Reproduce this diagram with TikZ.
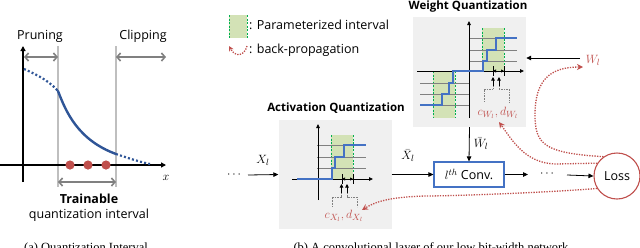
\documentclass[tikz,border=0pt]{standalone}
\usepackage{fontspec}
\setmainfont{Open Sans}
\newfontfamily\capfont{Liberation Serif}
\usetikzlibrary{arrows.meta}
\definecolor{cblue}{HTML}{2F5597}
\definecolor{sblue}{HTML}{4472C4}
\definecolor{cred}{HTML}{C0504D}
\definecolor{gfill}{HTML}{D3E2B6}
\definecolor{gdash}{HTML}{00B050}
\definecolor{boxgray}{HTML}{F0F0F0}
\definecolor{lgray}{HTML}{BFBFBF}
\definecolor{agray}{HTML}{808080}
\tikzset{
  txt/.style={font=\fontsize{12.5}{14}\selectfont, inner sep=0pt},
  mtxt/.style={font=\fontsize{13}{14}\selectfont, inner sep=0pt},
  ttl/.style={font=\fontsize{11.5}{13}\selectfont\bfseries, inner sep=0pt},
  captxt/.style={font=\fontsize{12.5}{14}\selectfont\capfont, inner sep=0pt, anchor=base},
  garrow/.style={agray, line width=1.6pt, {Straight Barb[length=3.5pt,width=8pt]}-{Straight Barb[length=3.5pt,width=8pt]}},
  axis/.style={black, line width=1.3pt, -{Triangle[length=5pt,width=5pt]}},
  thinaxis/.style={black, line width=0.8pt, -{Triangle[length=4pt,width=3.5pt]}},
  barr/.style={black, line width=0.8pt, -{Triangle[length=5pt,width=4.5pt]}},
  bp/.style={cred, line width=1.3pt, dash pattern=on 1.3pt off 1.3pt, -{Stealth[length=6pt,width=6pt,open]}},
  stair/.style={sblue, line width=1.4pt},
  qline/.style={agray, line width=0.6pt},
  gint/.style={fill=gfill, draw=none},
  gedge/.style={gdash, line width=0.9pt, dash pattern=on 2pt off 1.5pt},
  brk/.style={agray, line width=0.6pt, dash pattern=on 1pt off 0.6pt},
  curvedot/.style={cblue, line width=2.2pt, dash pattern=on 2pt off 2.2pt},
}
\begin{document}
\begin{tikzpicture}[x=1pt,y=-1pt]
\clip (0,0) rectangle (640,247);
\fill[white] (0,0) rectangle (640,247);

% ---------------- (a) ----------------
\draw[lgray, line width=1.5pt] (58,46) -- (58,187);
\draw[lgray, line width=1.5pt] (116,46) -- (116,187);
\coordinate (ya0) at (23,182); \coordinate (ya1) at (23,46);
\coordinate (xa0) at (0,165); \coordinate (xa1) at (166,165);
\draw[axis] (ya0) -- (ya1);
\draw[axis] (xa0) -- (xa1);
\node[mtxt] (xlab) at (166,178) {$x$};
\coordinate (pr0) at (24,57); \coordinate (pr1) at (58,57);
\coordinate (cl0) at (116,57); \coordinate (cl1) at (166,57);
\draw[garrow] (pr0) -- (pr1);
\draw[garrow] (cl0) -- (cl1);
\node[txt] (pruning) at (40,36) {Pruning};
\node[txt] (clipping) at (143,36) {Clipping};
\coordinate (c0) at (24,69); \coordinate (c1) at (58,91);
\coordinate (c2) at (116,154); \coordinate (c3) at (150,164);
\draw[curvedot] (c0) .. controls (40,76) and (50,82) .. (c1);
\draw[cblue, line width=2.4pt, line cap=round] (c1) .. controls (66,112) and (78,140) .. (c2);
\draw[curvedot] (c2) .. controls (128,158) and (140,162) .. (c3);
\foreach \px in {70,88,106} \fill[cred] (\px,165) circle (4.6pt);
\coordinate (tr0) at (58,182); \coordinate (tr1) at (116,182);
\draw[garrow] (tr0) -- (tr1);
\node[ttl, font=\fontsize{12.5}{14}\selectfont\bfseries] (trainable) at (89,199) {Trainable};
\node[txt] (qint) at (89,215) {quantization interval};
\node[captxt] (capa) at (86,251) {(a) Quantization Interval};

% ---------------- legend ----------------
\fill[gint] (229,15) rectangle (247,38);
\draw[gedge] (229,15) -- (229,38);
\draw[gedge] (247,15) -- (247,38);
\node[txt, anchor=west] (leg1) at (249,25) {: Parameterized interval};
\coordinate (bpa) at (247,46); \coordinate (bpb) at (229,46);
\draw[bp, -{Stealth[length=5pt,width=5pt,open]}] (bpa) .. controls (244,57) and (235,57) .. (bpb);
\node[txt, anchor=west] (leg2) at (249,50) {: back-propagation};

% ---------------- activation quantization ----------------
\node[ttl] (actttl) at (336,108) {Activation Quantization};
\node[fill=boxgray, minimum width=113pt, minimum height=109pt, inner sep=0pt] (act) at (335,174.5) {};
\fill[gint] (331,135) rectangle (353,179);
\draw[gedge] (331,135) -- (331,179);
\draw[gedge] (353,135) -- (353,179);
\foreach \yy in {145,157,168} \draw[qline] (317,\yy) -- (366,\yy);
\draw[thinaxis] (318,200) -- (318,124);
\draw[thinaxis] (292,179) -- (373,179);
\draw[stair] (297,179) -| (332,168) -| (335,157) -| (344,145) -- (366,145);
\draw[black, line width=0.9pt] (342,174) -- (342,184);
\draw[black, line width=0.9pt] (353,174) -- (353,184);
\draw[black, line width=0.7pt, {Triangle[length=3pt,width=3pt]}-{Triangle[length=3pt,width=3pt]}] (342,179) -- (353,179);
\draw[black, line width=0.7pt, -{Triangle[length=3.5pt,width=3.5pt]}] (341.5,193) -- (341.5,184);
\draw[black, line width=0.7pt, -{Triangle[length=3.5pt,width=3.5pt]}] (347,193) -- (347,184);
\draw[brk] (341.5,193) -- (341.5,197) -- (332,197) -- (332,207);
\draw[brk] (347,193) -- (347,197) -- (357,197) -- (357,207);
\node[mtxt, text=cred] (cx) at (344,216) {$c_{X_l}, d_{X_l}$};

% ---------------- weight quantization ----------------
\node[ttl] (wttl) at (468,7) {Weight Quantization};
\node[fill=boxgray, minimum width=113pt, minimum height=110pt, inner sep=0pt] (wq) at (469.5,72) {};
\fill[gint] (482,28) rectangle (504,71);
\draw[gedge] (482,28) -- (482,71);
\draw[gedge] (504,28) -- (504,71);
\fill[gint] (433,71) rectangle (455,118);
\draw[gedge] (433,71) -- (433,118);
\draw[gedge] (455,71) -- (455,118);
\foreach \yy in {38,50,61} \draw[qline] (469,\yy) -- (517,\yy);
\foreach \yy in {83,94,105} \draw[qline] (420,\yy) -- (469,\yy);
\draw[thinaxis] (469,118) -- (469,21);
\draw[thinaxis] (417,71) -- (524,71);
\draw[stair] (420,105) -| (442,94) -| (449,83) -| (453,71) -| (483,61) -| (487,50) -| (496,38) -- (517,38);
\draw[black, line width=0.9pt] (493,66) -- (493,76);
\draw[black, line width=0.9pt] (504,66) -- (504,76);
\draw[black, line width=0.7pt, {Triangle[length=3pt,width=3pt]}-{Triangle[length=3pt,width=3pt]}] (493,71) -- (504,71);
\draw[black, line width=0.7pt, -{Triangle[length=3.5pt,width=3.5pt]}] (493,86) -- (493,77);
\draw[black, line width=0.7pt, -{Triangle[length=3.5pt,width=3.5pt]}] (499,86) -- (499,77);
\draw[brk] (493,86) -- (493,89) -- (484,89) -- (484,102);
\draw[brk] (499,86) -- (499,89) -- (509,89) -- (509,102);
\node[mtxt, text=cred] (cw) at (498,113) {$c_{W_l}, d_{W_l}$};

% ---------------- main flow ----------------
\node[mtxt] (ldots) at (234,175) {$\cdots$};
\coordinate (xin) at (248,175);
\draw[barr] (xin) -- (act.west);
\node[mtxt] (xl) at (263,160) {$X_l$};
\node[draw=sblue, line width=1.1pt, minimum width=70pt, minimum height=25pt, inner sep=0pt, txt] (conv) at (469,174.5) {$l^{th}$ Conv.};
\draw[barr] (act.east) -- (conv.west);
\node[mtxt] (xbar) at (408,156) {$\bar{X}_l$};
\draw[barr] (wq.south) -- (conv.north);
\node[mtxt] (wbar) at (481,144) {$\bar{W}_l$};
\coordinate (cout) at (528,174.5);
\draw[barr] (conv.east) -- (cout);
\node[mtxt] (rdots) at (547,174) {$\cdots$};
\node[draw=cred, line width=1.1pt, circle, minimum size=46pt, inner sep=0pt, txt] (loss) at (617,176) {Loss};
\coordinate (lin) at (567,175);
\draw[barr] (lin) -- (loss.west);
\node[mtxt, text=cred] (wl) at (593,60) {$W_l$};
\coordinate (wlarr) at (580,58);
\draw[barr] (wlarr) -- (wq.east |- wlarr);

% back-propagation
\draw[bp] (loss.125) .. controls (545,153) and (535,145) .. (535,115) .. controls (535,80) and (550,67) .. (583,67);
\draw[bp] (loss.147) -- (555,164) .. controls (525,163) and (512,140) .. (499,122);
\draw[bp] (loss.212) .. controls (540,193) and (450,196) .. (425,196) .. controls (395,197) and (378,200) .. (362,210);

\node[captxt] (capb) at (431,251) {(b) A convolutional layer of our low bit-width network};
\end{tikzpicture}
\end{document}
